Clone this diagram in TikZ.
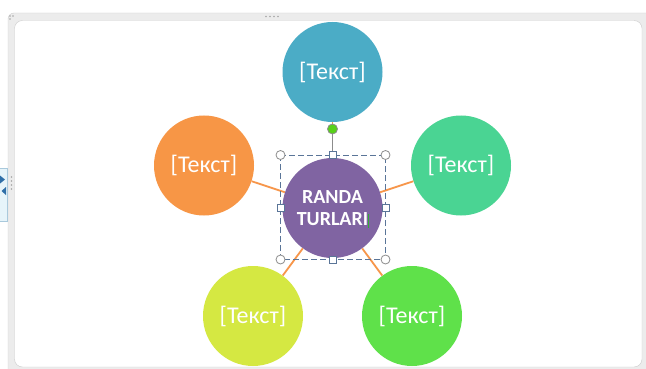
\documentclass[tikz,border=0pt]{standalone}
\usepackage{fontspec}
\setmainfont{Carlito}
\begin{document}
\begin{tikzpicture}[x=1pt,y=-1pt,
  bubble/.style={circle,minimum size=100pt,inner sep=0pt,text=white,font=\fontsize{24}{27}\selectfont},
  link/.style={draw=linkor,line width=1.8pt},
  sel/.style={draw=selblue,line width=0.9pt,dash pattern=on 6pt off 3pt},
  ring/.style={circle,draw=handgray,fill=white,line width=0.8pt,minimum size=9pt,inner sep=0pt},
  sq/.style={rectangle,draw=selblue,fill=white,line width=0.8pt,minimum size=7pt,inner sep=0pt}]
\definecolor{linkor}{HTML}{F7964A}
\definecolor{selblue}{HTML}{5A7598}
\definecolor{handgray}{HTML}{8C8C8C}
\definecolor{cblue}{HTML}{4BACC6}
\definecolor{corange}{HTML}{F79646}
\definecolor{cmint}{HTML}{4AD493}
\definecolor{clime}{HTML}{D5E842}
\definecolor{cgreen}{HTML}{5FE14A}
\definecolor{cpurple}{HTML}{8064A2}
\definecolor{framegray}{HTML}{ECECEC}
\definecolor{frameline}{HTML}{CDCDCD}
\definecolor{tabblue}{HTML}{E6F4FA}
\definecolor{tabline}{HTML}{A9C9DC}
\definecolor{arrowblue}{HTML}{2F6FA8}
\useasboundingbox (0,0) rectangle (646,369);
% window frame
\draw[frameline,fill=framegray,rounded corners=6pt] (8,13) rectangle (652,380);
\draw[frameline,fill=white,rounded corners=8pt] (14.5,20.5) rectangle (642,367);
\foreach \xx in {266,270,274,278} \fill[gray!70] (\xx,16.5) circle (0.9pt);
\foreach \yy in {177,181,185,189} \fill[gray!70] (11.5,\yy) circle (0.9pt);
\fill[gray!70] (10,16) circle (0.9pt) (13,16) circle (0.9pt) (10,19) circle (0.9pt);
% side tab
\draw[tabline,fill=tabblue] (-2,168) rectangle (7.5,221);
\fill[arrowblue] (0,175.5) -- (5,179.5) -- (0,183.5) -- cycle;
\fill[arrowblue] (6,187) -- (1.5,191) -- (6,195) -- cycle;
% circles
\node[bubble,fill=cblue] (top) at (332.5,72) {[Текст]};
\node[bubble,fill=corange] (left) at (204,165.5) {[Текст]};
\node[bubble,fill=cmint] (right) at (461,165.5) {[Текст]};
\node[bubble,fill=clime] (bl) at (253,316) {[Текст]};
\node[bubble,fill=cgreen] (br) at (412,316) {[Текст]};
\node[bubble,fill=cpurple,font=\fontsize{20}{21.5}\selectfont\bfseries,align=center] (mid) at (332.5,208) {RANDA\\TURLARI};
% connectors
\draw[link] (mid) -- (top);
\draw[link] (mid) -- (left);
\draw[link] (mid) -- (right);
\draw[link] (mid) -- (bl);
\draw[link] (mid) -- (br);
% text cursor
\draw[green!60!black!80,line width=0.9pt] (368,214) -- (368,228);
% selection frame
\coordinate (nw) at (280.5,155);
\coordinate (se) at (385.5,259.5);
\draw[sel] (nw) rectangle (se);
\node[circle,draw=handgray,fill=green!55!lime!80!black!90,line width=0.8pt,minimum size=10pt,inner sep=0pt] (rot) at (332.5,129) {};
\node[sq] (tm) at (332.5,155) {};
\draw[handgray,line width=0.6pt] (rot) -- (tm);
\node[sq] (bm) at (332.5,259.5) {};
\node[sq] (lm) at (280.5,207.5) {};
\node[sq] (rm) at (385.5,207.5) {};
\node[ring] (c1) at (280.5,155) {};
\node[ring] (c2) at (385.5,155) {};
\node[ring] (c3) at (280.5,259.5) {};
\node[ring] (c4) at (385.5,259.5) {};
\end{tikzpicture}
\end{document}
